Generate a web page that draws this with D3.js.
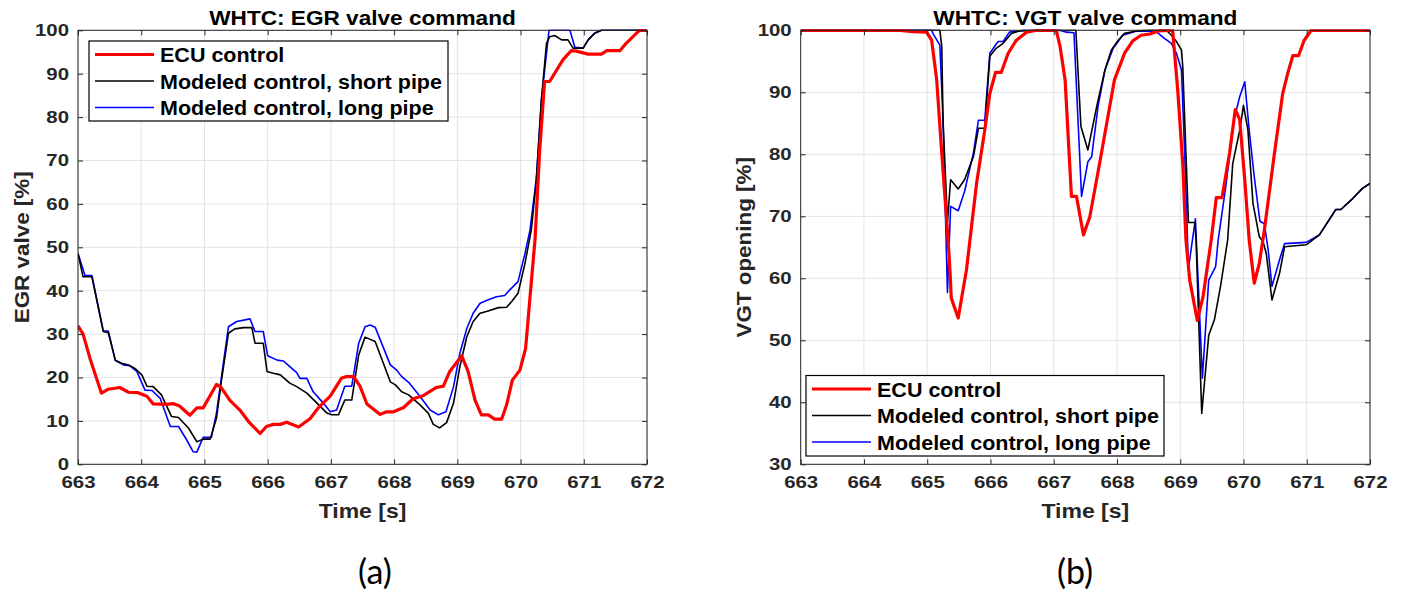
<!DOCTYPE html>
<html><head><meta charset="utf-8">
<script src="https://cdn.jsdelivr.net/npm/d3@7"></script>
<style>body{margin:0;background:#fff;} svg{display:block;}</style>
</head><body>
<svg id="c" width="1401" height="593"></svg>
<script>
// ---------- tick labels ----------
const xTicks = [663, 664, 665, 666, 667, 668, 669, 670, 671, 672];
const egrYTicks = [0, 10, 20, 30, 40, 50, 60, 70, 80, 90, 100];
const vgtYTicks = [30, 40, 50, 60, 70, 80, 90, 100];
const seriesNames = ["ECU control", "Modeled control, short pipe", "Modeled control, long pipe"];

// ---------- (a) EGR valve command ----------
const egrEcuT = [663.00,663.08,663.19,663.37,663.48,663.66,663.80,663.95,664.09,664.19,664.40,664.50,664.60,664.77,664.88,664.98,665.19,665.26,665.40,665.56,665.70,665.88,665.98,666.09,666.20,666.30,666.49,666.67,666.80,666.99,667.17,667.25,667.36,667.46,667.57,667.78,667.88,667.99,668.15,668.30,668.46,668.67,668.78,668.88,669.07,669.17,669.28,669.38,669.49,669.59,669.70,669.78,669.87,669.99,670.08,670.15,670.23,670.30,670.38,670.46,670.54,670.67,670.80,670.88,671.07,671.28,671.36,671.57,671.67,671.88,672.00];
const egrEcuV = [31.9,30.0,24.4,16.4,17.3,17.7,16.6,16.5,15.7,13.9,13.8,14.0,13.5,11.3,13.0,13.0,18.4,17.8,14.8,12.5,9.8,7.1,8.7,9.2,9.2,9.7,8.6,10.5,13.0,15.7,19.9,20.2,20.2,18.0,13.9,11.5,12.1,12.1,13.1,15.1,15.8,17.7,18.0,21.4,25.0,21.4,14.8,11.4,11.4,10.4,10.4,13.7,19.4,21.7,26.7,38.6,52.0,71.7,88.2,88.2,90.1,93.2,95.3,95.2,94.5,94.5,95.3,95.3,97.0,100,100];

const egrShortT = [663.00,663.08,663.22,663.40,663.48,663.59,663.69,663.80,663.90,664.01,664.09,664.19,664.32,664.48,664.59,664.75,664.88,664.98,665.09,665.19,665.27,665.38,665.48,665.62,665.75,665.80,665.93,665.99,666.09,666.20,666.35,666.46,666.62,666.78,666.93,667.01,667.12,667.22,667.33,667.44,667.54,667.70,667.94,668.02,668.12,668.23,668.41,668.54,668.62,668.72,668.83,668.94,669.04,669.15,669.25,669.36,669.46,669.65,669.78,669.86,669.96,670.07,670.17,670.25,670.33,670.41,670.46,670.54,670.65,670.75,670.83,670.99,671.07,671.17,671.28,672.00];
const egrShortV = [48.6,43.2,43.2,30.6,30.3,24.0,23.3,22.9,22.1,20.6,18.0,17.9,16.0,11.0,10.8,8.3,5.2,5.8,5.8,10.6,19.4,30.2,31.2,31.5,31.5,27.9,27.9,21.4,21.0,20.6,18.7,17.9,16.4,14.1,11.9,11.4,11.4,14.8,14.8,25.2,29.3,28.3,19.0,18.3,16.7,16.0,13.7,11.8,9.2,8.4,9.6,14.1,22.5,29.4,32.9,34.8,35.2,36.1,36.2,37.5,39.4,46.3,54.0,65.5,84.0,97.0,98.5,98.8,97.8,97.8,95.9,95.9,97.8,99.3,100,100];

const egrLongT = [663.00,663.11,663.22,663.40,663.48,663.59,663.72,663.82,663.93,664.06,664.17,664.30,664.46,664.59,664.72,664.82,664.88,664.98,665.11,665.19,665.27,665.38,665.51,665.72,665.80,665.93,666.00,666.15,666.25,666.35,666.46,666.51,666.62,666.72,666.88,666.99,667.09,667.22,667.33,667.44,667.54,667.62,667.70,667.94,668.04,668.12,668.23,668.41,668.57,668.70,668.82,668.94,669.04,669.15,669.25,669.36,669.49,669.62,669.75,669.83,669.96,670.07,670.15,670.25,670.33,670.45,670.78,670.86,670.99,671.07,671.17,671.28,672.00];
const egrLongV = [48.6,43.5,43.5,30.7,30.7,23.9,22.9,22.7,21.4,17.1,17.0,15.2,8.7,8.7,5.6,2.9,2.8,6.2,6.2,11.8,20.2,31.7,32.9,33.5,30.6,30.6,25.0,24.0,23.8,22.5,21.1,19.8,19.8,16.7,14.1,12.1,12.5,18.0,18.0,27.9,31.7,32.1,31.6,22.9,21.7,20.2,18.9,15.6,12.5,11.4,12.1,17.9,25.6,31.3,34.8,37.1,37.9,38.6,38.9,40.2,42.1,48.6,54.0,65.9,84.0,100,100,96.1,95.9,97.8,99.3,100,100];

// ---------- (b) VGT valve command ----------
const vgtEcuT = [663.00,664.57,664.78,664.99,665.07,665.15,665.23,665.33,665.36,665.38,665.49,665.62,665.78,665.91,665.99,666.08,666.17,666.28,666.41,666.57,666.73,667.04,667.10,667.18,667.28,667.36,667.47,667.57,667.73,667.96,668.12,668.25,668.38,668.52,668.65,668.83,668.88,668.96,669.04,669.09,669.15,669.27,669.36,669.49,669.57,669.66,669.78,669.87,669.94,670.02,670.09,670.17,670.25,670.33,670.49,670.62,670.70,670.78,670.87,670.96,671.07,672.00];
const vgtEcuV = [100,100,99.8,99.7,98.4,92.0,80.2,66.2,61.3,56.8,53.6,61.3,75.3,83.9,89.8,93.2,93.2,96.3,98.4,99.7,100,100,97.4,92.0,73.2,73.2,67.0,69.9,78.8,92.0,96.3,98.3,99.2,99.4,99.9,100,100,90.4,78.5,66.2,59.7,53.2,57.0,66.2,73.0,73.0,80.2,87.2,85.6,75.9,66.2,59.2,62.4,67.8,80.2,89.8,93.1,95.9,95.9,98.4,100,100];

const vgtShortT = [663.00,665.20,665.23,665.25,665.32,665.37,665.49,665.59,665.73,665.81,665.91,665.99,666.09,666.20,666.33,666.46,667.31,667.35,667.43,667.54,667.69,667.81,667.91,668.02,668.12,668.31,668.52,668.78,668.86,668.94,669.02,669.04,669.09,669.13,669.23,669.25,669.34,669.45,669.54,669.64,669.75,669.83,669.94,670.00,670.07,670.15,670.25,670.31,670.36,670.45,670.57,670.65,670.99,671.20,671.46,671.54,671.73,671.88,672.00];
const vgtShortV = [100,100,97.4,85.5,69.1,75.9,74.4,75.9,79.6,84.2,84.2,95.8,97.1,97.9,99.5,99.9,100,100,84.5,80.7,88.2,93.6,96.8,98.4,99.5,99.9,100,100,99.2,98.2,96.8,94.1,80.2,69.0,69.0,66.2,38.2,50.8,53.3,58.9,66.2,78.5,83.9,87.9,83.9,72.1,66.7,65.9,64.0,56.5,60.8,65.1,65.4,67.0,71.1,71.1,72.9,74.5,75.3];

const vgtLongT = [663.00,665.07,665.09,665.20,665.25,665.32,665.37,665.49,665.59,665.73,665.81,665.91,665.99,666.12,666.20,666.30,666.52,667.10,667.20,667.32,667.44,667.54,667.60,667.70,667.81,667.94,668.09,668.31,668.62,668.75,668.86,668.94,669.02,669.07,669.13,669.24,669.35,669.45,669.56,669.60,669.72,669.85,669.94,670.02,670.09,670.17,670.26,670.33,670.39,670.45,670.57,670.65,670.99,671.20,671.46,671.54,671.73,671.88,672.00];
const vgtLongV = [100,100,99.5,97.6,85.5,57.7,71.6,70.9,74.0,80.2,85.5,85.5,96.3,98.2,98.2,99.7,100,100,99.7,99.6,73.2,78.8,79.6,87.7,93.6,97.1,99.2,99.9,99.8,98.7,97.9,96.3,93.6,80.2,61.6,69.6,43.9,59.7,61.9,66.2,74.8,85.5,89.3,91.7,83.9,76.4,69.2,68.8,64.6,58.7,63.0,65.6,65.8,67.0,71.1,71.1,72.9,74.5,75.3];

// ---------- drawing ----------
const svg = d3.select("#c");
const AX = "#262626";
const FONT = "'Liberation Sans', Arial, Helvetica, sans-serif";

function zip(ts, vs) { return ts.map((t, i) => [t, vs[i]]); }

function stext(g, x, y, str, o) {
  const t = g.append("text")
    .attr("transform", `translate(${x},${y})` + (o.rot ? ` rotate(${o.rot})` : "") + ` scale(${o.sx || 1},1)`)
    .attr("text-anchor", o.anchor || "middle")
    .attr("font-family", o.family || FONT)
    .attr("font-weight", o.weight || "bold")
    .attr("font-size", o.size)
    .attr("fill", o.fill || AX)
    .text(str);
  if (o.dy) t.attr("dy", o.dy);
  return t;
}

function panel(cfg) {
  const g = svg.append("g");
  const x = d3.scaleLinear().domain([663, 672]).range([cfg.x0, cfg.x1]);
  const y = d3.scaleLinear().domain([cfg.yTicks[0], 100]).range([cfg.yb, cfg.yt]);

  // grid
  g.append("g").selectAll("line").data(xTicks).join("line")
    .attr("x1", d => x(d)).attr("x2", d => x(d)).attr("y1", y.range()[0]).attr("y2", y.range()[1])
    .attr("stroke", "#e3e3e3").attr("stroke-width", 1);
  g.append("g").selectAll("line").data(cfg.yTicks).join("line")
    .attr("y1", d => y(d)).attr("y2", d => y(d)).attr("x1", cfg.x0).attr("x2", cfg.x1)
    .attr("stroke", "#e3e3e3").attr("stroke-width", 1);

  // clip + lines
  const cid = "clip" + cfg.id;
  svg.append("clipPath").attr("id", cid).append("rect")
    .attr("x", cfg.x0).attr("y", cfg.yt - 1).attr("width", cfg.x1 - cfg.x0).attr("height", cfg.yb - cfg.yt + 2);
  const line = d3.line().x(d => x(d[0])).y(d => y(d[1]));
  const lg = g.append("g").attr("clip-path", `url(#${cid})`);
  const series = [
    { d: zip(cfg.longT, cfg.longV), c: "#0000ff", w: 1.6 },
    { d: zip(cfg.shortT, cfg.shortV), c: "#000000", w: 1.6 },
    { d: zip(cfg.ecuT, cfg.ecuV), c: "#ff0000", w: 3.2 }
  ];
  series.forEach(s => lg.append("path").datum(s.d).attr("d", line)
    .attr("fill", "none").attr("stroke", s.c).attr("stroke-width", s.w).attr("stroke-linejoin", "round"));

  // axes (ticks inward)
  const bottom = g.append("g").attr("transform", `translate(0,${cfg.yb})`)
    .call(d3.axisBottom(x).tickValues(xTicks).tickSize(-5).tickSizeOuter(0).tickPadding(12).tickFormat(d3.format("d")));
  const top = g.append("g").attr("transform", `translate(0,${cfg.yt})`)
    .call(d3.axisTop(x).tickValues(xTicks).tickSize(-5).tickSizeOuter(0).tickFormat(""));
  const left = g.append("g").attr("transform", `translate(${cfg.x0},0)`)
    .call(d3.axisLeft(y).tickValues(cfg.yTicks).tickSize(-5).tickSizeOuter(0).tickPadding(9).tickFormat(d3.format("d")));
  const right = g.append("g").attr("transform", `translate(${cfg.x1},0)`)
    .call(d3.axisRight(y).tickValues(cfg.yTicks).tickSize(-5).tickSizeOuter(0).tickFormat(""));
  [bottom, top, left, right].forEach(a => {
    a.select(".domain").remove();
    a.selectAll(".tick line").attr("stroke", AX).attr("stroke-width", 1);
  });
  const TSX = 1.2;
  [bottom, left].forEach(a => a.selectAll(".tick text")
    .attr("font-family", FONT).attr("font-weight", "bold").attr("font-size", 17).attr("fill", AX));
  bottom.selectAll(".tick text").attr("transform", `scale(${TSX},1)`);
  left.selectAll(".tick text").attr("x", -9 / TSX).attr("transform", `scale(${TSX},1)`);

  // box
  g.append("rect").attr("x", cfg.x0).attr("y", cfg.yt).attr("width", cfg.x1 - cfg.x0).attr("height", cfg.yb - cfg.yt)
    .attr("fill", "none").attr("stroke", AX).attr("stroke-width", 1);

  // labels
  const cx = (cfg.x0 + cfg.x1) / 2;
  stext(g, cx, 24.5, cfg.title, { size: 19.5, sx: 1.16, fill: "#000" });
  stext(g, cx, 518, "Time [s]", { size: 20, sx: 1.15 });
  stext(g, cfg.ylx, (cfg.yt + cfg.yb) / 2, cfg.ylabel, { size: 19.5, sx: 1.15, rot: -90 });
  stext(g, cfg.capX, 584, cfg.caption, { size: 34, family: "Lato, 'Open Sans', sans-serif", weight: "normal", fill: "#000" });

  // legend
  const L = cfg.leg;
  const lgd = g.append("g");
  lgd.append("rect").attr("x", L.x).attr("y", L.y).attr("width", L.w).attr("height", L.h)
    .attr("fill", "#fff").attr("stroke", "#000").attr("stroke-width", 1.2);
  const legStyle = [{ c: "#ff0000", w: 3.2 }, { c: "#000", w: 1.6 }, { c: "#0000ff", w: 1.6 }];
  seriesNames.forEach((name, i) => {
    const ry = L.y + 13.5 + i * 26.5;
    lgd.append("line").attr("x1", L.x + 6).attr("x2", L.x + 65).attr("y1", ry).attr("y2", ry)
      .attr("stroke", legStyle[i].c).attr("stroke-width", legStyle[i].w);
    stext(lgd, L.x + 71, ry + 7.5, name, { size: 20.5, sx: 1.05, anchor: "start", fill: "#000" });
  });
}

panel({
  id: "a", x0: 78, x1: 647, yt: 30.3, yb: 464.3, yTicks: egrYTicks,
  ecuT: egrEcuT, ecuV: egrEcuV, shortT: egrShortT, shortV: egrShortV, longT: egrLongT, longV: egrLongV,
  title: "WHTC: EGR valve command", ylabel: "EGR valve [%]", ylx: 29, caption: "(a)", capX: 375,
  leg: { x: 89, y: 41, w: 359, h: 80 }
});
panel({
  id: "b", x0: 800.7, x1: 1370, yt: 30.3, yb: 464.3, yTicks: vgtYTicks,
  ecuT: vgtEcuT, ecuV: vgtEcuV, shortT: vgtShortT, shortV: vgtShortV, longT: vgtLongT, longV: vgtLongV,
  title: "WHTC: VGT valve command", ylabel: "VGT opening [%]", ylx: 751, caption: "(b)", capX: 1075,
  leg: { x: 806, y: 375.5, w: 358, h: 80.5 }
});
</script>
</body></html>
